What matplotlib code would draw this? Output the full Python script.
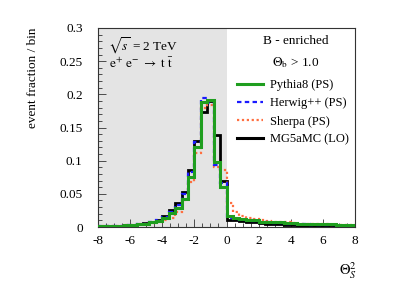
import numpy as np
import matplotlib
matplotlib.use("Agg")
import matplotlib.pyplot as plt
from matplotlib.lines import Line2D

plt.rcParams['font.family'] = ['Liberation Serif', 'DejaVu Serif']
plt.rcParams['mathtext.fontset'] = 'stix'

# ---------------- data ----------------
bin_edges = np.linspace(-8, 8, 41)

pythia8 = [0.002, 0.002, 0.002, 0.002, 0.003, 0.003, 0.004, 0.005, 0.007, 0.009,
           0.013, 0.021, 0.028, 0.042, 0.076, 0.121, 0.188, 0.191, 0.098, 0.060,
           0.016, 0.014, 0.012, 0.011, 0.010, 0.008, 0.008, 0.007, 0.007, 0.006,
           0.0055, 0.005, 0.005, 0.0045, 0.004, 0.004, 0.004, 0.0035, 0.003, 0.003]

herwig = [0.002, 0.002, 0.002, 0.002, 0.003, 0.003, 0.004, 0.005, 0.007, 0.010,
          0.015, 0.023, 0.033, 0.050, 0.083, 0.128, 0.194, 0.187, 0.093, 0.066,
          0.013, 0.012, 0.011, 0.010, 0.009, 0.008, 0.007, 0.006, 0.006, 0.005,
          0.005, 0.004, 0.004, 0.003, 0.003, 0.003, 0.003, 0.002, 0.002, 0.002]

sherpa = [0.002, 0.002, 0.002, 0.002, 0.003, 0.003, 0.004, 0.005, 0.006, 0.008,
          0.010, 0.013, 0.023, 0.040, 0.068, 0.112, 0.179, 0.184, 0.090, 0.086,
          0.036, 0.022, 0.017, 0.014, 0.012, 0.010, 0.009, 0.008, 0.007, 0.007,
          0.006, 0.005, 0.005, 0.004, 0.004, 0.004, 0.003, 0.003, 0.003, 0.003]

mg5amc = [0.001, 0.001, 0.002, 0.002, 0.003, 0.003, 0.004, 0.006, 0.008, 0.011,
          0.017, 0.025, 0.036, 0.053, 0.086, 0.129, 0.173, 0.190, 0.139, 0.070,
          0.011, 0.010, 0.009, 0.008, 0.007, 0.006, 0.005, 0.004, 0.004, 0.003,
          0.003, 0.002, 0.002, 0.002, 0.0015, 0.001, 0.001, 0.001, 0.001, 0.001]

labels = ["Pythia8 (PS)", "Herwig++ (PS)", "Sherpa (PS)", "MG5aMC (LO)"]
colors = ["#1f9e1f", "#1a1aff", "#ff6f40", "#000000"]

x_ticks = [-8, -6, -4, -2, 0, 2, 4, 6, 8]
y_ticks = [0, 0.05, 0.1, 0.15, 0.2, 0.25, 0.3]
y_tick_labels = ["0", "0.05", "0.1", "0.15", "0.2", "0.25", "0.3"]

# ---------------- figure ----------------
W, H = 395, 284
fig = plt.figure(figsize=(W / 100, H / 100), dpi=100)
ax = fig.add_axes([98 / W, 1 - 227 / H, (355 - 98) / W, (227 - 28) / H])

ax.axvspan(-8, 0, color="#e4e4e4", lw=0, zorder=0)

ax.stairs(mg5amc, bin_edges, color=colors[3], lw=2.0, zorder=2)
ax.stairs(sherpa, bin_edges, color=colors[2], lw=1.6, ls=(0, (1, 1.2)), zorder=3)
ax.stairs(herwig, bin_edges, color=colors[1], lw=1.6, ls=(0, (2, 1.5)), zorder=4)
ax.stairs(pythia8, bin_edges, color=colors[0], lw=2.2, zorder=5)

ax.set_xlim(-8, 8)
ax.set_ylim(0, 0.3)
ax.set_xticks(x_ticks)
ax.set_xticklabels([str(t) for t in x_ticks])
ax.set_yticks(y_ticks)
ax.set_yticklabels(y_tick_labels)
ax.set_xticks(np.arange(-8, 8.01, 0.5), minor=True)
ax.set_yticks(np.arange(0, 0.301, 0.01), minor=True)
ax.tick_params(which="both", direction="in", top=False, right=False,
               labelsize=9.5, width=0.6, color="#333333")
ax.tick_params(axis="y", which="major", length=6, pad=11)
ax.tick_params(axis="y", which="minor", length=3)
ax.tick_params(axis="x", which="major", length=6, pad=6)
ax.tick_params(axis="x", which="minor", length=3)
for s in ax.spines.values():
    s.set_linewidth(0.8)
    s.set_color("#333333")

fig.text(33 / W, 1 - 28 / H, "event fraction / bin", rotation=90,
         ha="center", va="top", fontsize=9.5)
fig.text(357 / W, 1 - 281 / H, r"$\Theta_S^2$", ha="right", va="bottom",
         fontsize=10.5)

ax.text(108 / W, 1 - 46 / H, r"$\sqrt{s}$ = 2 TeV", transform=fig.transFigure,
        ha="left", va="center", fontsize=9.5)
ax.text(109 / W, 1 - 64 / H, r"$\mathrm{e^{+}\ e^{-}\ \rightarrow\ t\ \bar{t}}$",
        transform=fig.transFigure, ha="left", va="center", fontsize=9.5)

ax.text(296 / W, 1 - 41 / H, "B - enriched", transform=fig.transFigure,
        ha="center", va="center", fontsize=9.5)
ax.text(296 / W, 1 - 63 / H, r"$\Theta_\mathrm{b}$ > 1.0", transform=fig.transFigure,
        ha="center", va="center", fontsize=9.5)

handles = [
    Line2D([], [], color=colors[0], lw=2.2),
    Line2D([], [], color=colors[1], lw=1.6, ls=(0, (2, 1.5))),
    Line2D([], [], color=colors[2], lw=1.6, ls=(0, (1, 1.2))),
    Line2D([], [], color=colors[3], lw=2.2),
]
fig.legend(handles, labels, loc="upper left",
           bbox_to_anchor=(237 / W, 1 - 79 / H), frameon=False,
           fontsize=9, handlelength=2.1, handletextpad=0.5,
           labelspacing=0.5, borderpad=0, borderaxespad=0)

fig.savefig("out.png", dpi=100)
